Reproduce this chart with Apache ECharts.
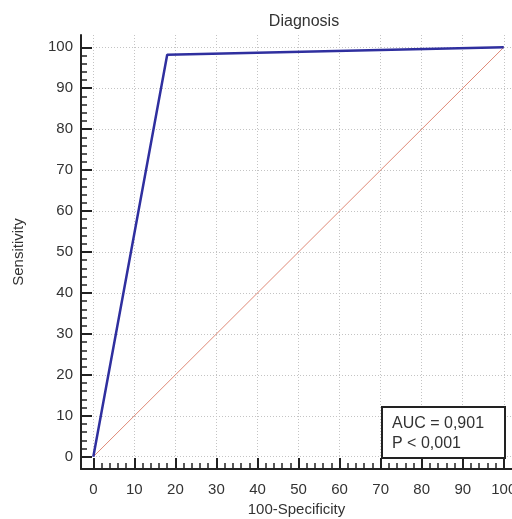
<!DOCTYPE html>
<html><head><meta charset="utf-8">
<script src="https://cdn.jsdelivr.net/npm/echarts@6/dist/echarts.min.js"></script>
<style>html,body{margin:0;padding:0;background:#fff}#c{width:512px;height:519px}</style>
</head><body><div id="c"></div>
<script>
// ROC curve points (100-Specificity, Sensitivity)
const rocX = [0, 18, 100];
const rocY = [0, 98.2, 100];
// reference diagonal
const diagX = [0, 100];
const diagY = [0, 100];
const majorTicks = [0, 10, 20, 30, 40, 50, 60, 70, 80, 90, 100];
const minorTicks = [];
for (let v = 0; v <= 100; v += 2) minorTicks.push(v);
const titleText = 'Diagnosis';
const xName = '100-Specificity';
const yName = 'Sensitivity';
const aucLines = ['AUC = 0,901', 'P < 0,001'];

const FONT = 'Liberation Sans, Arial, sans-serif';
const chart = echarts.init(document.getElementById('c'));
const axisCol = '#222';
function majorAxis(isX) {
  return {
    type: 'value', min: -3, max: isX ? 102 : 103,
    position: isX ? 'bottom' : 'left',
    axisLine: { show: true, onZero: false, lineStyle: { color: axisCol, width: 2 } },
    axisTick: { show: true, inside: true, length: 11, customValues: majorTicks, lineStyle: { color: axisCol, width: 2 } },
    axisLabel: { show: true, customValues: majorTicks, color: '#333', fontSize: 15, fontFamily: FONT, margin: isX ? 13 : 8 },
    splitLine: { show: true, lineStyle: { color: '#c4c4c4', type: [1, 2], width: 1 } },
    name: isX ? xName : yName, nameLocation: 'middle', nameGap: isX ? 32 : 55,
    nameTextStyle: { color: '#333', fontSize: 15, fontFamily: FONT }
  };
}
function minorAxis(isX) {
  return {
    type: 'value', min: -3, max: isX ? 102 : 103,
    position: isX ? 'bottom' : 'left',
    axisLine: { show: false, onZero: false },
    axisTick: { show: true, inside: true, length: 6, customValues: minorTicks, lineStyle: { color: axisCol, width: 1.5 } },
    axisLabel: { show: false },
    splitLine: { show: false }
  };
}
chart.setOption({
  animation: false,
  backgroundColor: '#fff',
  title: { text: titleText, left: 299, top: 9, textAlign: 'center',
    textStyle: { color: '#333', fontSize: 16, fontWeight: 'normal', fontFamily: FONT } },
  grid: { left: 81, right: 0, top: 35, bottom: 50, containLabel: false, outerBoundsMode: 'none' },
  xAxis: [majorAxis(true), minorAxis(true)],
  yAxis: [majorAxis(false), minorAxis(false)],
  series: [
    { type: 'line', xAxisIndex: 0, yAxisIndex: 0, data: diagX.map((x, i) => [x, diagY[i]]),
      symbol: 'none', lineStyle: { color: '#e08a78', width: 1 }, z: 3 },
    { type: 'line', xAxisIndex: 0, yAxisIndex: 0, data: rocX.map((x, i) => [x, rocY[i]]),
      symbol: 'none', lineStyle: { color: '#2f2f9f', width: 2.5 }, z: 4 }
  ],
  graphic: [
    { type: 'rect', shape: { x: 382, y: 407, width: 123, height: 51 },
      style: { fill: '#fff', stroke: '#222', lineWidth: 2 }, z: 10 },
    { type: 'text', x: 392, y: 414, z: 11,
      style: { text: aucLines.join('\n'), fill: '#333', fontSize: 16, fontFamily: FONT, lineHeight: 20 } }
  ]
});
</script></body></html>
